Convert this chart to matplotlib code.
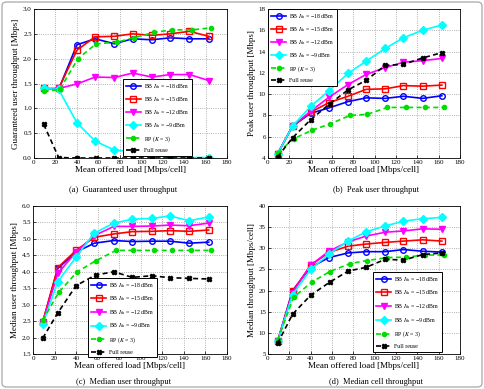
import numpy as np
import matplotlib
matplotlib.use("Agg")
from matplotlib import pyplot as plt
from matplotlib.patches import FancyBboxPatch

plt.rcParams['font.family'] = ['Liberation Serif', 'DejaVu Serif']
plt.rcParams['mathtext.fontset'] = 'stix'

# offered load (x) for each series
x_bb = [9, 23, 40, 57, 75, 92, 110, 127, 145, 163]
x_rp = [9, 24, 41, 58, 77, 93, 112, 129, 147, 165]
x_fr = [9, 23, 40, 58, 75, 92, 110, 127, 145, 163]

labels = ["BB $I_{\\rm th}$ = \u221218 dBm", "BB $I_{\\rm th}$ = \u221215 dBm",
          "BB $I_{\\rm th}$ = \u221212 dBm", "BB $I_{\\rm th}$ = \u22129 dBm",
          "RP ($K$ = 3)", "Full reuse"]

# (a) guaranteed user throughput
a_bb18 = [1.40, 1.38, 2.28, 2.40, 2.30, 2.40, 2.38, 2.42, 2.40, 2.40]
a_bb15 = [1.40, 1.40, 2.17, 2.44, 2.45, 2.50, 2.47, 2.50, 2.55, 2.45]
a_bb12 = [1.38, 1.40, 1.49, 1.63, 1.62, 1.71, 1.63, 1.68, 1.68, 1.56]
a_bb9 = [1.40, 1.38, 0.71, 0.34, 0.16, 0.13, 0.04, 0.03, 0.01, 0.01]
a_rp = [1.34, 1.38, 2.00, 2.30, 2.33, 2.42, 2.53, 2.58, 2.58, 2.62]
a_fr = [0.68, 0.01, 0.0, 0.0, 0.0, 0.0, 0.0, 0.0, 0.0, 0.0]

# (b) peak user throughput
b_bb18 = [4.4, 7.0, 8.2, 8.7, 9.3, 9.65, 9.6, 9.8, 9.6, 9.85]
b_bb15 = [4.4, 7.0, 8.3, 9.2, 9.8, 10.45, 10.5, 10.8, 10.75, 10.85]
b_bb12 = [4.4, 7.0, 8.4, 9.7, 10.9, 11.85, 12.5, 13.0, 13.15, 13.35]
b_bb9 = [4.4, 7.0, 8.85, 10.3, 11.95, 13.1, 14.3, 15.3, 16.0, 16.5]
b_rp = [4.5, 5.8, 6.6, 7.2, 8.0, 8.1, 8.75, 8.75, 8.75, 8.75]
b_fr = [4.1, 5.9, 7.6, 9.1, 10.4, 11.3, 12.7, 12.8, 13.4, 13.9]

# (c) median user throughput
c_bb18 = [2.45, 4.10, 4.60, 4.87, 4.95, 4.92, 4.93, 4.93, 4.87, 4.90]
c_bb15 = [2.48, 4.13, 4.65, 5.05, 5.15, 5.22, 5.23, 5.25, 5.23, 5.27]
c_bb12 = [2.45, 3.95, 4.60, 5.10, 5.38, 5.38, 5.39, 5.42, 5.40, 5.48]
c_bb9 = [2.40, 3.70, 4.45, 5.18, 5.48, 5.60, 5.62, 5.70, 5.55, 5.67]
c_rp = [2.52, 3.38, 4.00, 4.33, 4.65, 4.65, 4.65, 4.65, 4.65, 4.65]
c_fr = [1.98, 2.75, 3.58, 3.90, 4.00, 3.83, 3.88, 3.82, 3.80, 3.78]

# (d) median cell throughput
d_bb18 = [8.0, 20.0, 25.5, 27.8, 28.9, 29.2, 29.2, 29.7, 29.3, 29.1]
d_bb15 = [8.0, 19.8, 26.0, 29.0, 30.5, 31.0, 31.4, 31.7, 32.0, 31.7]
d_bb12 = [8.0, 19.5, 26.0, 29.3, 31.5, 32.9, 33.8, 34.1, 34.6, 34.5]
d_bb9 = [8.0, 19.0, 25.0, 28.6, 31.7, 33.9, 35.3, 36.4, 37.0, 37.3]
d_rp = [8.3, 18.4, 22.0, 24.5, 26.4, 27.1, 27.8, 27.9, 28.4, 28.4]
d_fr = [7.5, 14.4, 18.9, 22.0, 24.6, 25.5, 27.4, 27.2, 28.5, 28.9]

W, H = 484, 389
fig = plt.figure(figsize=(W / 100, H / 100), dpi=100)
fig.patches.append(FancyBboxPatch((2 / W, 2 / H), 1 - 4 / W, 1 - 4 / H,
                                  boxstyle="round,pad=0,rounding_size=0.01",
                                  transform=fig.transFigure, fill=False,
                                  edgecolor="#b0b0b0", linewidth=1.0))


def px_axes(l, t, r, b):
    return fig.add_axes([l / W, 1 - b / H, (r - l) / W, (b - t) / H])


def draw(ax, ys, ylim, yticks, ylabel, caption, cx, cy, leg, lsp):
    styles = [
        dict(color="#0000ff", marker="o", mfc="none", ls="-"),
        dict(color="#ff0000", marker="s", mfc="none", ls="-"),
        dict(color="#ff00ff", marker="v", mfc="#ff00ff", ls="-"),
        dict(color="#00ffff", marker="D", mfc="#00ffff", ls="-"),
        dict(color="#00dd00", marker="o", mfc="#00dd00", ls=(0, (3, 2)), ms=3),
        dict(color="black", marker="X", mfc="black", ls=(0, (3, 2)), ms=3.2),
    ]
    xs = [x_bb, x_bb, x_bb, x_bb, x_rp, x_fr]
    for x, y, st, lab in zip(xs, ys, styles, labels):
        kw = dict(lw=1.2, ms=4, mew=1.0)
        kw.update(st)
        ax.plot(x, y, label=lab, **kw)
    ax.set_xlim(0, 180)
    ax.set_xticks(np.arange(0, 181, 20))
    ax.set_ylim(*ylim)
    ax.set_yticks(yticks)
    ax.grid(True, ls=":", color="#999999", lw=0.6)
    ax.tick_params(labelsize=5, length=2, width=0.5, direction="in", pad=1.5)
    for s in ax.spines.values():
        s.set_linewidth(0.6)
    ax.set_xlabel("Mean offered load [Mbps/cell]", fontsize=6.5, labelpad=1)
    ax.set_ylabel(ylabel, fontsize=6.5, labelpad=2)
    lg = ax.legend(loc="upper left", bbox_to_anchor=leg, fontsize=4.2,
                   handlelength=2.6, handletextpad=0.5, labelspacing=lsp,
                   borderpad=0.5, borderaxespad=0, fancybox=False,
                   edgecolor="black", framealpha=1)
    lg.get_frame().set_linewidth(0.7)
    lg.set_zorder(5)
    fig.text(cx / W, 1 - cy / H, caption, fontsize=6, ha="center", va="center")


ax = px_axes(34, 9, 227, 158)
draw(ax, [a_bb18, a_bb15, a_bb12, a_bb9, a_rp, a_fr], (0, 3), np.arange(0, 3.01, 0.5),
     "Guaranteed user throughput [Mbps]", "(a)  Guaranteed user throughput", 123, 190,
     (0.461, 0.530), 0.7)

ax = px_axes(268, 9, 460, 158)
draw(ax, [b_bb18, b_bb15, b_bb12, b_bb9, b_rp, b_fr], (4, 18), np.arange(4, 18.1, 2),
     "Peak user throughput [Mbps]", "(b)  Peak user throughput", 376, 190,
     (0.0, 1.0), 0.7)

ax = px_axes(33, 206, 227, 354)
draw(ax, [c_bb18, c_bb15, c_bb12, c_bb9, c_rp, c_fr], (1.5, 6), np.arange(1.5, 6.01, 0.5),
     "Median user throughput [Mbps]", "(c)  Median user throughput", 123, 382,
     (0.284, 0.514), 0.8)

ax = px_axes(268, 206, 460, 354)
draw(ax, [d_bb18, d_bb15, d_bb12, d_bb9, d_rp, d_fr], (5, 40), np.arange(5, 40.1, 5),
     "Median throughput [Mbps/cell]", "(d)  Median cell throughput", 376, 382,
     (0.547, 0.554), 0.8)

fig.savefig("out.png", dpi=100)
